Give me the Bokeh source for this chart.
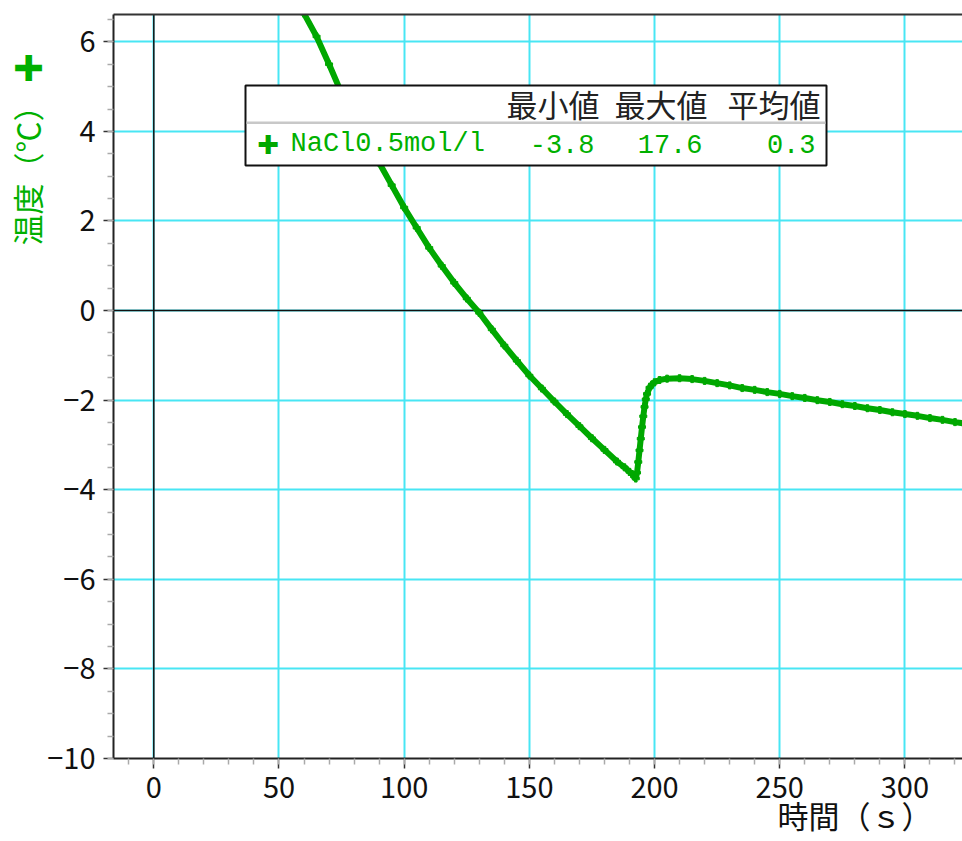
from bokeh.plotting import figure
from bokeh.models import (Range1d, SingleIntervalTicker, FixedTicker, LinearAxis, Span,
                          BoxAnnotation, Label, Title)
from bokeh.embed import file_html
from bokeh.resources import INLINE

# ---- data ----
series_name = "NaCl0.5mol/l"
stat_headers = ["最小値", "最大値", "平均値"]
stat_values = ["-3.8", "17.6", "0.3"]

time_s = [50, 55, 60, 65, 70, 75, 80, 85, 90, 95, 100, 105, 110, 115, 120, 125,
          130, 135, 140, 145, 150, 155, 160, 165, 170, 175, 180, 185, 188, 190,
          191, 192, 192.5, 193, 193.5, 194, 194.5, 195, 195.5, 196, 196.5, 197,
          198, 199, 200, 202, 205, 210, 215, 220, 225, 230, 235, 240, 245, 250,
          255, 260, 265, 270, 275, 280, 285, 290, 295, 300, 305, 310, 315, 320,
          325, 330]
temp_c = [7.9, 7.25, 6.63, 6.12, 5.5, 4.85, 4.3, 3.8, 3.3, 2.8, 2.3, 1.85, 1.4,
          1.0, 0.62, 0.27, -0.05, -0.42, -0.78, -1.12, -1.45, -1.74, -2.03,
          -2.31, -2.58, -2.85, -3.11, -3.37, -3.5, -3.6, -3.65, -3.71, -3.75,
          -3.62, -3.38, -3.12, -2.86, -2.6, -2.36, -2.15, -1.98, -1.86, -1.72,
          -1.65, -1.6, -1.55, -1.52, -1.51, -1.53, -1.57, -1.62, -1.67, -1.73,
          -1.77, -1.82, -1.86, -1.91, -1.95, -2.0, -2.04, -2.09, -2.13, -2.18,
          -2.22, -2.27, -2.31, -2.35, -2.4, -2.44, -2.49, -2.53, -2.57]

x_title = "時間（ｓ）"
y_title = "温度（℃） ✚"
x_ticks_interval = 50
y_ticks_interval = 2

# ---- layout helpers (pixel positions of annotations) ----
W, H = 962, 841
X0, X1 = -16.1, 323.0
Y0, Y1 = -10.0, 6.61
FL, FR, FT, FB = 113, 962, 14, 758


def px2x(px):
    return X0 + (px - FL) / (FR - FL) * (X1 - X0)


def px2y(py):
    return Y1 - (py - FT) / (FB - FT) * (Y1 - Y0)


GREEN = "#00a800"
TXT_GREEN = "#00b000"
CYAN = "#48e6f4"
FONT = "Noto Sans CJK JP"
MONO = "Liberation Mono"

p = figure(width=W, height=H, x_range=Range1d(X0, X1), y_range=Range1d(Y0, Y1),
           output_backend="svg", toolbar_location=None,
           min_border_left=FL, min_border_right=W - FR, min_border_top=FT,
           min_border_bottom=H - FB)
p.outline_line_color = None
p.background_fill_color = "white"
p.border_fill_color = "white"

p.xaxis.ticker = SingleIntervalTicker(interval=x_ticks_interval, num_minor_ticks=5)
p.yaxis.ticker = SingleIntervalTicker(interval=y_ticks_interval, num_minor_ticks=4)
p.xgrid.ticker = p.xaxis.ticker
p.ygrid.ticker = p.yaxis.ticker

for ax in (p.xaxis[0], p.yaxis[0]):
    ax.axis_line_color = "#222222"
    ax.axis_line_width = 2
    ax.major_tick_line_color = "#333333"
    ax.major_tick_line_width = 1.5
    ax.major_tick_out = 10
    ax.major_tick_in = 0
    ax.minor_tick_line_color = "#aaaaaa"
    ax.minor_tick_line_width = 1.5
    ax.minor_tick_out = 6
    ax.minor_tick_in = 0
    ax.major_label_text_font = FONT
    ax.major_label_text_font_size = "29px"
    ax.major_label_text_color = "#111111"
    ax.major_label_standoff = 8

top_axis = LinearAxis(ticker=FixedTicker(ticks=[]), major_tick_line_color=None,
                      minor_tick_line_color=None, axis_line_color="#333333",
                      axis_line_width=2, major_label_standoff=0)
p.add_layout(top_axis, "above")

for g in (p.xgrid[0], p.ygrid[0]):
    g.grid_line_color = CYAN
    g.grid_line_width = 2

p.add_layout(Span(location=0, dimension="width", line_color="#111111", line_width=1.5, level="underlay"))
p.add_layout(Span(location=0, dimension="height", line_color="#111111", line_width=1.5, level="underlay"))

p.line(time_s, temp_c, line_color=GREEN, line_width=6)
p.scatter(time_s, temp_c, marker="plus", size=7, color=GREEN)

# ---- legend / stats table ----
p.add_layout(BoxAnnotation(left=px2x(245), right=px2x(826), top=px2y(85), bottom=px2y(165),
                           fill_color="white", fill_alpha=1, line_color="#111111",
                           line_alpha=1, line_width=2))
p.add_layout(BoxAnnotation(left=px2x(246), right=px2x(825), top=px2y(121), bottom=px2y(123.5),
                           fill_color="#c8c8c8", fill_alpha=1, line_color=None))

col_right = [599, 707, 820]
for h, v, cr in zip(stat_headers, stat_values, col_right):
    p.add_layout(Label(x=px2x(cr), y=px2y(103), text=h, text_align="right", text_baseline="middle",
                       text_font=FONT, text_font_size="31px", text_color="#222222"))
    p.add_layout(Label(x=px2x(cr - 5), y=px2y(143), text=v, text_align="right", text_baseline="middle",
                       text_font=MONO, text_font_size="27px", text_color=TXT_GREEN))

p.add_layout(Label(x=px2x(268), y=px2y(144), text="✚", text_align="center", text_baseline="middle",
                   text_font="DejaVu Sans", text_font_size="26px", text_color=GREEN))
p.add_layout(Label(x=px2x(290), y=px2y(143), text=series_name, text_align="left", text_baseline="middle",
                   text_font=MONO, text_font_size="27px", text_color=TXT_GREEN))

# ---- axis titles ----
p.add_layout(Title(text=x_title, align="right", offset=30, standoff=-22,
                   text_font=FONT, text_font_size="31px", text_font_style="normal",
                   text_color="#111111"), "below")
p.add_layout(Title(text=y_title, align="right", offset=38, standoff=-8,
                   text_font=FONT, text_font_size="31px", text_font_style="normal",
                   text_color=TXT_GREEN), "left")

open("out.html", "w").write(file_html(p, INLINE))
